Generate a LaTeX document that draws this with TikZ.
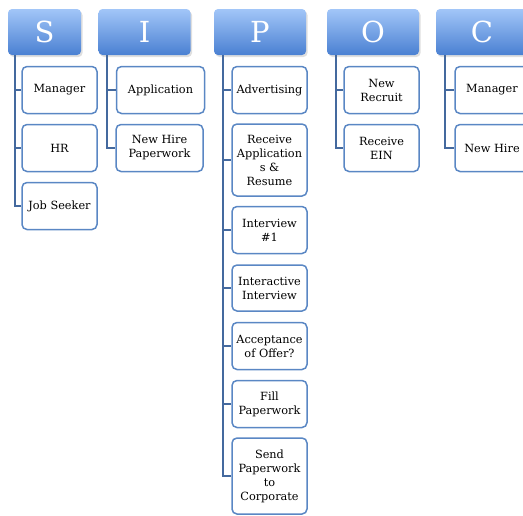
\documentclass[tikz,border=0pt]{standalone}
\usepackage{fontspec}
\setmainfont{DejaVu Serif}
\usetikzlibrary{shadows}
\definecolor{hdtop}{HTML}{A2C6F8}
\definecolor{hdbot}{HTML}{4A80D2}
\definecolor{boxbd}{HTML}{5A87C4}
\definecolor{connc}{HTML}{44699E}
\definecolor{txt}{HTML}{000000}
\tikzset{
  hdr/.style={rounded corners=4pt, top color=hdtop, bottom color=hdbot, minimum height=46pt, inner sep=0pt,
    text=white, font=\fontsize{29}{30}\selectfont,
    drop shadow={opacity=0.25, shadow xshift=1.5pt, shadow yshift=-2pt}},
  child/.style={draw=boxbd, line width=1.5pt, rounded corners=5pt, fill=white, minimum height=47pt,
    inner sep=1pt, align=center, text=txt, font=\fontsize{11.3}{14}\selectfont},
  conn/.style={draw=connc, line width=2pt}
}
\begin{document}
\begin{tikzpicture}[x=1pt,y=-1pt]
\useasboundingbox (0,0) rectangle (523,515);
% headers
\node[hdr, minimum width=73pt] (hS) at (44.5,32) {S};
\node[hdr, minimum width=92pt] (hI) at (144.5,32) {I};
\node[hdr, minimum width=92pt] (hP) at (260,32) {P};
\node[hdr, minimum width=92pt] (hO) at (373,32) {O};
\node[hdr, minimum width=92pt] (hC) at (482,32) {C};
% S children
\node[child, minimum width=75pt] (s1) at (59.5,90) {Manager};
\node[child, minimum width=75pt] (s2) at (59.5,148) {HR};
\node[child, minimum width=75pt] (s3) at (59.5,206) {Job Seeker};
% I children
\node[child, minimum width=88pt] (i1) at (160.5,90) {Application};
\node[child, minimum width=87pt] (i2) at (159.5,148) {New Hire\\Paperwork};
% P children
\node[child, minimum width=75pt] (p1) at (269.5,90) {Advertising};
\node[child, minimum width=75pt, minimum height=72pt] (p2) at (269.5,160) {Receive\\Application\\s \&\\Resume};
\node[child, minimum width=75pt] (p3) at (269.5,230) {Interview\\\#1};
\node[child, minimum width=75pt, minimum height=46pt] (p4) at (269.5,288) {Interactive\\Interview};
\node[child, minimum width=75pt] (p5) at (269.5,346) {Acceptance\\of Offer?};
\node[child, minimum width=75pt] (p6) at (269.5,404) {Fill\\Paperwork};
\node[child, minimum width=75pt, minimum height=76pt] (p7) at (269.5,476) {Send\\Paperwork\\to\\Corporate};
% O children
\node[child, minimum width=75pt] (o1) at (381.5,90) {New\\Recruit};
\node[child, minimum width=75pt] (o2) at (381.5,148) {Receive\\EIN};
% C children
\node[child, minimum width=74pt] (c1) at (492,90) {Manager};
\node[child, minimum width=74pt] (c2) at (492,148) {New Hire};
% connectors
\foreach \h/\dx/\list in {hS/7/{s1,s2,s3}, hI/8.5/{i1,i2}, hP/9/{p1,p2,p3,p4,p5,p6,p7}, hO/9/{o1,o2}, hC/9/{c1,c2}}{
  \foreach \c in \list {
    \draw[conn] ([xshift=\dx pt]\h.south west) |- (\c.west);
  }
}
\end{tikzpicture}
\end{document}
